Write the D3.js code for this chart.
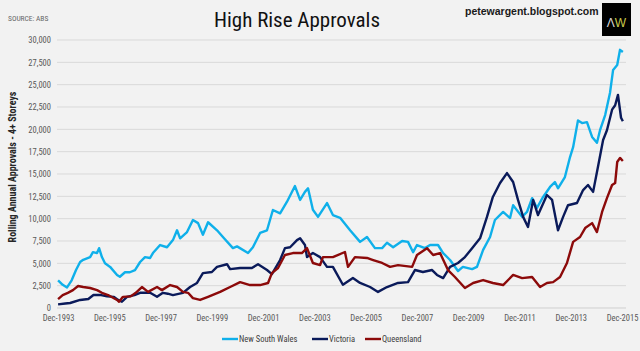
<!DOCTYPE html>
<html>
<head>
<meta charset="utf-8">
<script src="https://cdn.jsdelivr.net/npm/d3@7"></script>
<style>
  html, body { margin: 0; padding: 0; background: #f2f2f2; }
  svg { display: block; }
  .narrow { font-family: "Liberation Sans Narrow", "Arial Narrow", "Roboto Condensed", sans-serif; }
</style>
</head>
<body>
<div id="chart"></div>
<script>
// High Rise Approvals: rolling annual approvals, 4+ storeys
const seriesNames = ['New South Wales', 'Victoria', 'Queensland'];
const seriesColors = ['#0fb0ea', '#0a1a5a', '#8c0a0a'];

const xTickYears = [1993, 1995, 1997, 1999, 2001, 2003, 2005, 2007, 2009, 2011, 2013, 2015];
const yTicks = [0, 2500, 5000, 7500, 10000, 12500, 15000, 17500, 20000, 22500, 25000, 27500, 30000];

// [decimal year, approvals]
const nsw = [
  [1993.92,3100],[1994.10,2600],[1994.27,2300],[1994.45,3100],[1994.62,4250],[1994.78,5150],[1994.90,5400],
  [1995.17,5700],[1995.28,6250],[1995.44,6150],[1995.52,6700],[1995.63,5700],[1995.75,5000],[1995.95,4600],
  [1996.22,3700],[1996.33,3500],[1996.53,4000],[1996.72,4000],[1996.92,4250],[1997.12,5150],[1997.31,5700],
  [1997.51,5600],[1997.62,6150],[1997.90,7050],[1998.17,6800],[1998.40,7600],[1998.56,8700],[1998.68,7800],
  [1998.95,8500],[1999.18,9850],[1999.38,9500],[1999.57,8200],[1999.77,9600],[2000.12,8700],[2000.35,7950],
  [2000.74,6700],[2000.90,6900],[2001.33,6150],[2001.52,6800],[2001.80,8400],[2002.07,8700],[2002.30,10970],
  [2002.58,10600],[2002.85,11900],[2003.16,13650],[2003.36,12100],[2003.55,13000],[2003.67,13400],[2003.86,11000],
  [2004.06,10200],[2004.41,11750],[2004.64,10400],[2004.92,10100],[2005.31,8700],[2005.70,7400],[2005.97,7950],
  [2006.28,6700],[2006.56,6700],[2006.75,7300],[2006.99,6800],[2007.34,7500],[2007.57,7400],[2007.77,6250],
  [2007.92,7050],[2008.23,6700],[2008.43,7050],[2008.74,7050],[2008.94,6150],[2009.21,5370],[2009.52,4140],
  [2009.71,4600],[2010.07,4350],[2010.26,4600],[2010.50,6500],[2010.77,7950],[2010.96,9850],[2011.28,10750],
  [2011.55,10070],[2011.67,11500],[2012.02,10200],[2012.21,10750],[2012.41,12300],[2012.60,11200],[2012.84,12430],
  [2013.11,13550],[2013.30,14100],[2013.42,13400],[2013.69,14660],[2013.89,16900],[2014.01,18000],[2014.20,21000],
  [2014.36,20700],[2014.55,20800],[2014.75,19150],[2014.94,18500],[2015.06,19900],[2015.26,21600],[2015.45,24100],
  [2015.57,26650],[2015.73,27200],[2015.84,28900],[2015.95,28650]
];

const vic = [
  [1993.92,400],[1994.20,500],[1994.39,560],[1994.78,900],[1995.10,1000],[1995.30,1450],[1995.60,1450],
  [1995.83,1300],[1996.10,1250],[1996.26,900],[1996.41,700],[1996.61,1250],[1996.90,1450],[1997.12,1700],
  [1997.51,1700],[1997.78,1250],[1998.01,1700],[1998.20,1600],[1998.40,1450],[1998.79,1700],[1999.07,2350],
  [1999.34,2800],[1999.57,3900],[1999.92,4030],[2000.12,4600],[2000.51,4900],[2000.63,4350],[2001.02,4480],
  [2001.48,4480],[2001.72,4900],[2002.07,4250],[2002.26,3800],[2002.58,5370],[2002.77,6700],[2002.97,6800],
  [2003.24,7600],[2003.36,7800],[2003.55,7050],[2003.63,5700],[2003.86,6150],[2004.14,5700],[2004.41,4600],
  [2004.64,4600],[2005.03,2600],[2005.42,3350],[2005.70,2800],[2006.09,2350],[2006.40,1800],[2006.75,2350],
  [2007.18,2800],[2007.57,2900],[2007.84,4250],[2008.15,4030],[2008.51,4250],[2008.70,3700],[2008.94,3350],
  [2009.21,4600],[2009.52,5040],[2009.79,5700],[2010.07,6700],[2010.38,7800],[2010.65,10200],[2010.88,12430],
  [2011.16,13990],[2011.43,15100],[2011.67,14100],[2011.86,12100],[2012.06,10200],[2012.25,9070],[2012.45,12100],
  [2012.64,10400],[2012.99,12650],[2013.19,12100],[2013.42,8700],[2013.62,10200],[2013.81,11500],[2014.16,11750],
  [2014.40,13200],[2014.59,13770],[2014.79,13000],[2014.98,15800],[2015.18,18800],[2015.33,19900],[2015.53,22200],
  [2015.65,22700],[2015.76,23850],[2015.88,21300],[2015.95,20900]
];

const qld = [
  [1993.92,1000],[1994.10,1450],[1994.30,1700],[1994.50,2000],[1994.70,2460],[1994.90,2350],[1995.17,2240],
  [1995.44,2000],[1995.63,1700],[1995.87,1450],[1996.22,900],[1996.30,700],[1996.45,1250],[1996.75,1300],
  [1996.95,1700],[1997.19,2350],[1997.43,1800],[1997.78,2350],[1997.97,2000],[1998.29,2570],[1998.56,2350],
  [1998.79,1800],[1998.99,1700],[1999.18,1100],[1999.46,900],[1999.77,1250],[2000.24,1800],[2000.63,2350],
  [2001.02,2900],[2001.41,2570],[2001.80,2570],[2002.11,2800],[2002.26,3900],[2002.50,4480],[2002.77,5930],
  [2003.08,6150],[2003.43,6150],[2003.63,6700],[2003.86,5040],[2004.14,4800],[2004.25,5700],[2004.64,5700],
  [2005.11,6270],[2005.23,4600],[2005.50,5700],[2005.97,5600],[2006.21,5370],[2006.56,5040],[2006.87,4600],
  [2007.18,4800],[2007.73,4600],[2007.92,5930],[2008.31,6700],[2008.55,5930],[2008.82,6150],[2009.13,4250],
  [2009.40,3470],[2009.79,2240],[2010.11,2800],[2010.50,3130],[2010.88,2800],[2011.28,2570],[2011.67,3700],
  [2012.02,3350],[2012.41,3470],[2012.72,2350],[2012.99,2800],[2013.23,2900],[2013.50,3470],[2013.77,5040],
  [2014.01,7400],[2014.28,7950],[2014.48,8950],[2014.75,9500],[2014.94,8500],[2015.14,10750],[2015.33,12300],
  [2015.53,13770],[2015.65,13990],[2015.73,16340],[2015.84,16800],[2015.95,16450]
];

const allSeries = [nsw, vic, qld];

const W = 640, H = 351;
const svg = d3.select('#chart').append('svg').attr('width', W).attr('height', H);
svg.append('rect').attr('width', W).attr('height', H).attr('fill', '#f2f2f2');

const x = d3.scaleLinear().domain([1993.917, 2015.917]).range([58, 622]);
const y = d3.scaleLinear().domain([0, 30000]).range([308, 40]);

// gridlines
svg.append('g').selectAll('line').data(yTicks).join('line')
  .attr('x1', 57).attr('x2', 626)
  .attr('y1', d => y(d)).attr('y2', d => y(d))
  .attr('stroke', d => d === 0 ? '#cfcfcf' : '#d9d9d9').attr('stroke-width', 1);

// y axis labels
const yAxis = d3.axisLeft(y).tickValues(yTicks).tickSize(0).tickPadding(0).tickFormat(d3.format(','));
const gy = svg.append('g').attr('transform', 'translate(51,0)').call(yAxis);
gy.select('.domain').remove();
gy.selectAll('text').attr('class', 'narrow').attr('font-size', 8.5).attr('fill', '#595959');

// x axis labels
const xAxis = d3.axisBottom(x).tickValues(xTickYears.map(yr => yr + 0.917)).tickSize(0).tickPadding(0)
  .tickFormat((d, i) => 'Dec-' + xTickYears[i]);
const gx = svg.append('g').attr('transform', 'translate(0,315)').call(xAxis);
gx.select('.domain').remove();
gx.selectAll('text').attr('class', 'narrow').attr('font-size', 8.5).attr('fill', '#595959');

// lines
const line = d3.line().x(d => x(d[0])).y(d => y(d[1]));
allSeries.forEach((s, i) => {
  svg.append('path').datum(s)
    .attr('fill', 'none').attr('stroke', seriesColors[i]).attr('stroke-width', 2.4)
    .attr('stroke-linejoin', 'round').attr('d', line);
});

// titles and labels
svg.append('text').attr('class', 'narrow').attr('x', 297).attr('y', 27)
  .attr('text-anchor', 'middle').attr('font-size', 21).attr('fill', '#111').text('High Rise Approvals');
svg.append('text').attr('class', 'narrow').attr('x', 8).attr('y', 21)
  .attr('font-size', 7.5).attr('fill', '#666').text('SOURCE: ABS');
svg.append('text').attr('x', 465).attr('y', 15)
  .attr('font-family', 'Liberation Sans, Arial, sans-serif').attr('font-weight', 'bold')
  .attr('font-size', 10.5).attr('fill', '#1a1a1a').text('petewargent.blogspot.com');
svg.append('text').attr('class', 'narrow')
  .attr('transform', 'translate(16,167) rotate(-90)').attr('text-anchor', 'middle')
  .attr('font-size', 10).attr('font-weight', 'bold').attr('fill', '#262626')
  .text('Rolling Annual Approvals - 4+ Storeys');

// logo
const logo = svg.append('g');
logo.append('rect').attr('x', 602).attr('y', 3).attr('width', 29).attr('height', 33).attr('fill', '#000');
const lt = logo.append('text').attr('x', 616.5).attr('y', 27).attr('text-anchor', 'middle')
  .attr('font-family', 'Liberation Sans, Arial, sans-serif').attr('font-size', 12);
lt.append('tspan').attr('fill', '#d8d8d8').text('Λ');
lt.append('tspan').attr('fill', '#c9c94a').text('W');

// legend
const legendX = [222, 312, 365];
const legend = svg.append('g');
seriesNames.forEach((n, i) => {
  legend.append('line').attr('x1', legendX[i]).attr('x2', legendX[i] + 16)
    .attr('y1', 339).attr('y2', 339).attr('stroke', seriesColors[i]).attr('stroke-width', 2.4);
  legend.append('text').attr('class', 'narrow').attr('x', legendX[i] + 17).attr('y', 342)
    .attr('font-size', 8.5).attr('fill', '#404040').text(n);
});
</script>
</body>
</html>
